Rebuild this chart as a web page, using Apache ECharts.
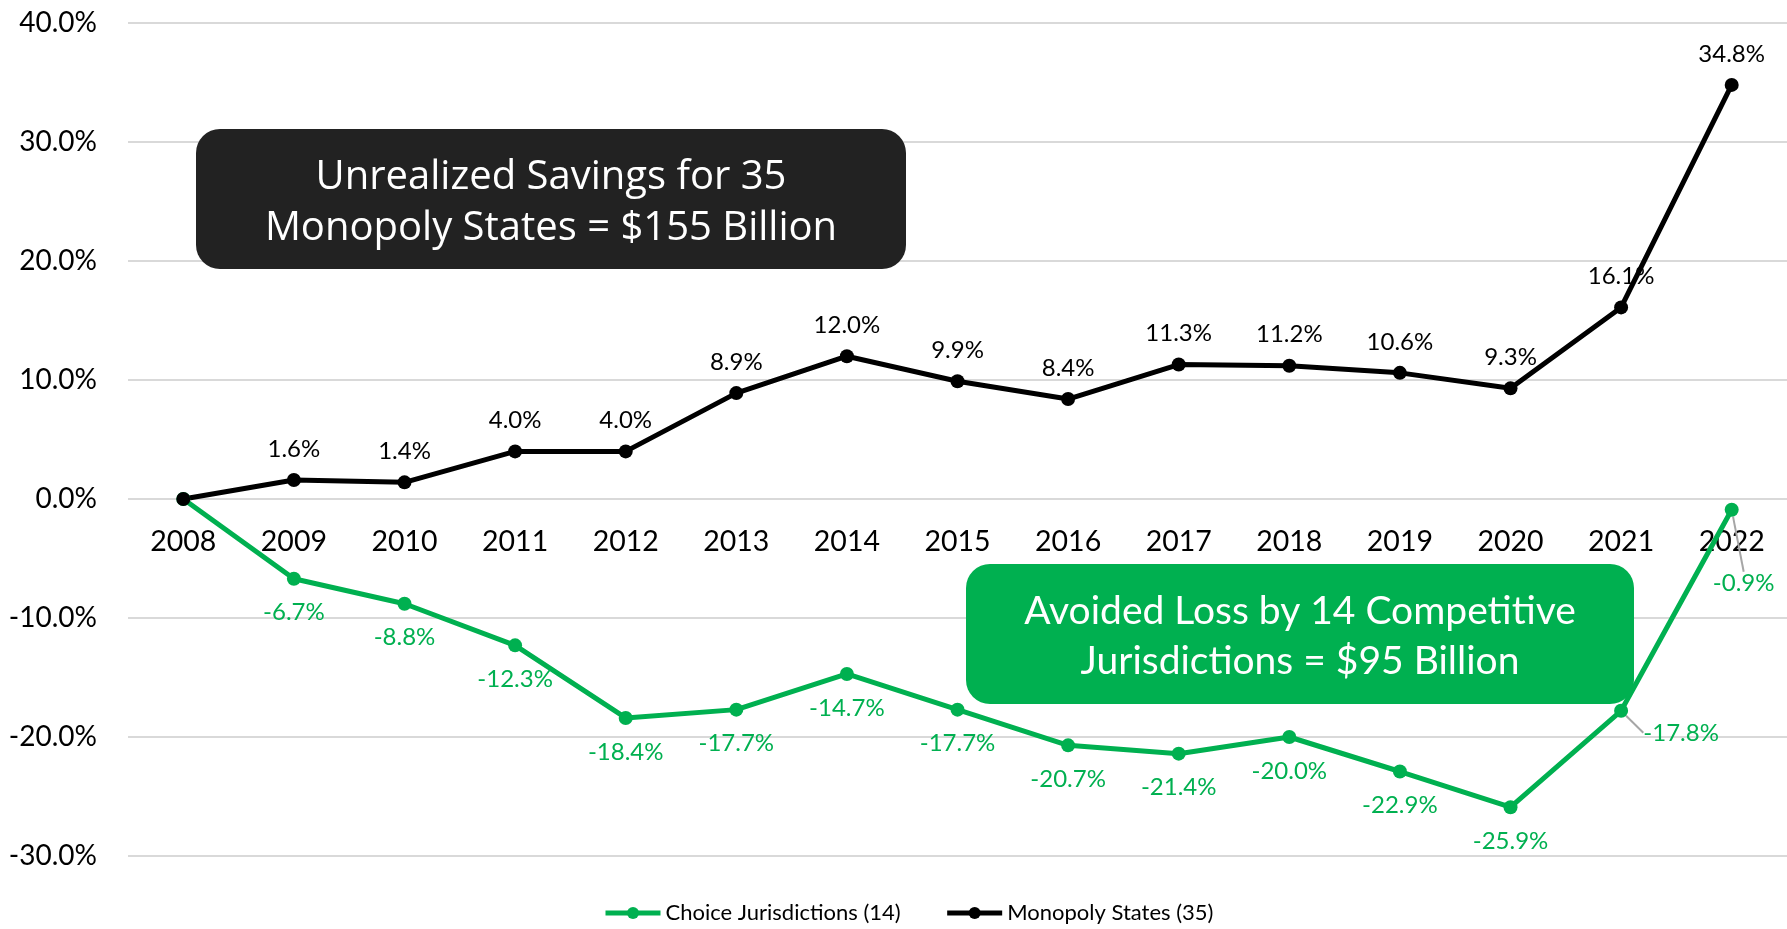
<!DOCTYPE html>
<html>
<head>
<meta charset="utf-8">
<script src="https://cdn.jsdelivr.net/npm/echarts@6/dist/echarts.min.js"></script>
<style>
  html, body { margin: 0; padding: 0; background: #ffffff; }
  #chart { width: 1787px; height: 929px; }
</style>
</head>
<body>
<div id="chart"></div>
<script>
// Cumulative change by year, in percent
const years = ['2008', '2009', '2010', '2011', '2012', '2013', '2014', '2015',
               '2016', '2017', '2018', '2019', '2020', '2021', '2022'];
const choiceValues = [0, -6.7, -8.8, -12.3, -18.4, -17.7, -14.7, -17.7,
                      -20.7, -21.4, -20.0, -22.9, -25.9, -17.8, -0.9];
const monopolyValues = [0, 1.6, 1.4, 4.0, 4.0, 8.9, 12.0, 9.9,
                        8.4, 11.3, 11.2, 10.6, 9.3, 16.1, 34.8];
const seriesNames = ['Choice Jurisdictions (14)', 'Monopoly States (35)'];
const calloutMonopoly = 'Unrealized Savings for 35\nMonopoly States = $155 Billion';
const calloutChoice = 'Avoided Loss by 14 Competitive\nJurisdictions = $95 Billion';
const yMin = -30, yMax = 40, yStep = 10;

const GREEN = '#00B050';
const BLACK = '#000000';
const FONT = 'Lato, "Open Sans", sans-serif';

const W = 1787, H = 929;
const GRID = { left: 128, right: 0, top: 23, bottom: 73 };
// lift the category axis from the bottom edge up to the zero line
const gridHeight = H - GRID.top - GRID.bottom;
const zeroOffset = -gridHeight * (0 - yMin) / (yMax - yMin);

const pct = v => Number(v).toFixed(1) + '%';

// first point of each series carries no label
function withLabels(values, extra) {
  return values.map((v, i) => {
    if (i === 0) return { value: v, label: { show: false } };
    if (extra && extra[i]) return Object.assign({ value: v }, extra[i]);
    return v;
  });
}

const chart = echarts.init(document.getElementById('chart'), null, { renderer: 'canvas' });

const option = {
  animation: false,
  backgroundColor: '#ffffff',
  grid: Object.assign({ containLabel: false }, GRID),
  legend: {
    data: seriesNames,
    left: 598,
    top: 897,
    itemWidth: 55,
    itemHeight: 15,
    itemGap: 44,
    lineStyle: { width: 5 },
    textStyle: { fontFamily: FONT, fontSize: 22, color: '#000' }
  },
  xAxis: {
    type: 'category',
    data: years,
    boundaryGap: true,
    offset: zeroOffset,
    axisLine: { show: false, onZero: false },
    axisTick: { show: false },
    axisLabel: { fontFamily: FONT, fontSize: 28.5, color: '#000', margin: 28 }
  },
  yAxis: {
    type: 'value',
    min: yMin,
    max: yMax,
    interval: yStep,
    axisLine: { show: false },
    axisTick: { show: false },
    splitLine: { lineStyle: { color: '#d9d9d9', width: 2 } },
    axisLabel: { fontFamily: FONT, fontSize: 28, color: '#000', margin: 31, formatter: pct }
  },
  series: [
    {
      name: seriesNames[0],
      type: 'line',
      z: 4,
      data: withLabels(choiceValues, {
        13: { labelLine: { show: true } },
        14: { labelLine: { show: true } }
      }),
      symbol: 'circle',
      symbolSize: 14,
      lineStyle: { color: GREEN, width: 5 },
      itemStyle: { color: GREEN },
      label: {
        show: true,
        position: 'bottom',
        distance: 15,
        fontFamily: FONT,
        fontSize: 24,
        color: GREEN,
        formatter: p => pct(p.value)
      },
      labelLine: { lineStyle: { color: '#a6a6a6', width: 2 } },
      labelLayout: function (params) {
        if (params.dataIndex === 13) return { dx: 60, dy: -12 };
        if (params.dataIndex === 14) return { dx: 12, dy: 40 };
        return {};
      }
    },
    {
      name: seriesNames[1],
      type: 'line',
      z: 4,
      data: withLabels(monopolyValues),
      symbol: 'circle',
      symbolSize: 14,
      lineStyle: { color: BLACK, width: 5 },
      itemStyle: { color: BLACK },
      label: {
        show: true,
        position: 'top',
        distance: 12,
        fontFamily: FONT,
        fontSize: 24,
        color: BLACK,
        formatter: p => pct(p.value)
      }
    }
  ],
  graphic: [
    {
      type: 'rect',
      z: 3,
      shape: { x: 196, y: 129, width: 710, height: 140, r: 24 },
      style: { fill: '#222222' }
    },
    {
      type: 'text',
      z: 3,
      style: {
        x: 551, y: 203,
        text: calloutMonopoly,
        fill: '#ffffff',
        font: '40px "Open Sans", Lato, sans-serif',
        lineHeight: 51,
        align: 'center',
        verticalAlign: 'middle'
      }
    },
    {
      type: 'rect',
      z: 3,
      shape: { x: 966, y: 564, width: 668, height: 140, r: 24 },
      style: { fill: GREEN }
    },
    {
      type: 'text',
      z: 3,
      style: {
        x: 1300, y: 636,
        text: calloutChoice,
        fill: '#ffffff',
        font: '39px ' + FONT,
        lineHeight: 50,
        align: 'center',
        verticalAlign: 'middle'
      }
    }
  ]
};

chart.setOption(option);
</script>
</body>
</html>
